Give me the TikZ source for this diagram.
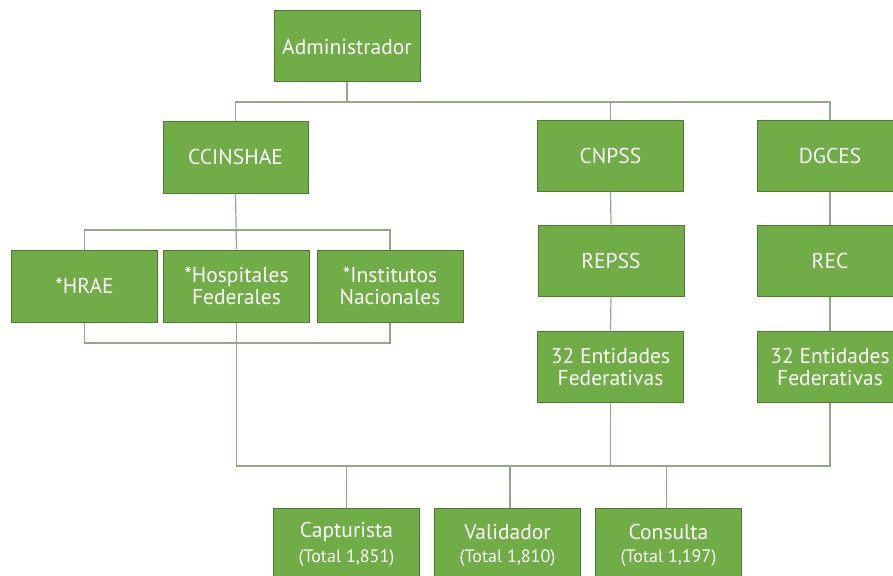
\documentclass[tikz,border=0pt]{standalone}
\usepackage{fontspec}
\setmainfont{PT Sans}
\definecolor{boxfill}{HTML}{70AD47}
\definecolor{boxedge}{HTML}{4E7A31}
\definecolor{linecol}{HTML}{93AA8A}
\begin{document}
\begin{tikzpicture}[x=1pt,y=-1pt,
  orgbox/.style={draw=boxedge,line width=1pt,fill=boxfill,text=white,align=center,
    minimum width=146pt,minimum height=71pt,inner sep=0pt,font=\fontsize{21.5}{22}\selectfont},
  conn/.style={draw=linecol,line width=1.2pt},
  sub/.style={text=white,inner sep=0pt,font=\fontsize{18}{20}\selectfont},
  mainlbl/.style={text=white,inner sep=0pt,font=\fontsize{21.5}{22}\selectfont}]
\useasboundingbox (0,0) rectangle (893,575);
\clip (0,0) rectangle (893,575);
\coordinate (bus1) at (0,102);
\coordinate (bus2) at (0,230);
\coordinate (bus3) at (0,343);
\coordinate (bus4) at (0,466);
% boxes
\node[orgbox] (admin) at (347,46.5) {Administrador};
\node[orgbox,minimum width=145pt,minimum height=72pt] (ccin) at (235.5,157) {CCINSHAE};
\node[orgbox] (cnpss) at (610.5,155.5) {CNPSS};
\node[orgbox] (dgces) at (830,155.5) {DGCES};
\node[orgbox,minimum height=72pt] (hrae) at (84.5,286) {*HRAE};
\node[orgbox,minimum height=72pt] (hosp) at (236.5,286) {*Hospitales\\Federales};
\node[orgbox,minimum height=72pt] (inst) at (390,286) {*Institutos\\Nacionales};
\node[orgbox] (repss) at (611,260.5) {REPSS};
\node[orgbox] (rec) at (830,261) {REC};
\node[orgbox] (ent1) at (610.5,366.5) {32 Entidades\\Federativas};
\node[orgbox] (ent2) at (830,366.5) {32 Entidades\\Federativas};
\node[orgbox,minimum height=80pt] (capt) at (346.5,548) {};
\node[orgbox,minimum height=80pt] (valid) at (507.5,548) {};
\node[orgbox,minimum height=80pt] (cons) at (668.5,548) {};
\node[mainlbl] (captl) at (346.5,532) {Capturista};
\node[sub] (captt) at (346.5,558) {(Total 1,851)};
\node[mainlbl] (validl) at (507.5,532) {Validador};
\node[sub] (validt) at (507.5,558) {(Total 1,810)};
\node[mainlbl] (consl) at (668.5,532) {Consulta};
\node[sub] (const) at (668.5,558) {(Total 1,197)};
% connectors
\draw[conn] (admin.south) -- (admin.south |- bus1);
\draw[conn] (ccin.north) -- (ccin.north |- bus1) -| (dgces.north);
\draw[conn] (cnpss.north) -- (cnpss.north |- bus1);
\draw[conn] (ccin.south) -- (hosp.north);
\draw[conn] (hrae.north) -- (hrae.north |- bus2) -| (inst.north);
\draw[conn] (hrae.south) -- (hrae.south |- bus3) -| (inst.south);
\draw[conn] (hosp.south) -- (hosp.south |- bus4) -| (ent2.south);
\draw[conn] (cnpss.south) -- (repss.north);
\draw[conn] (repss.south) -- (ent1.north);
\draw[conn] (ent1.south) -- (ent1.south |- bus4);
\draw[conn] (dgces.south) -- (rec.north);
\draw[conn] (rec.south) -- (ent2.north);
\draw[conn] (capt.north) -- (capt.north |- bus4);
\draw[conn] ([xshift=2.5pt]valid.north) -- ([xshift=2.5pt]valid.north |- bus4);
\draw[conn] ([xshift=-2pt]cons.north) -- ([xshift=-2pt]cons.north |- bus4);
\end{tikzpicture}
\end{document}
